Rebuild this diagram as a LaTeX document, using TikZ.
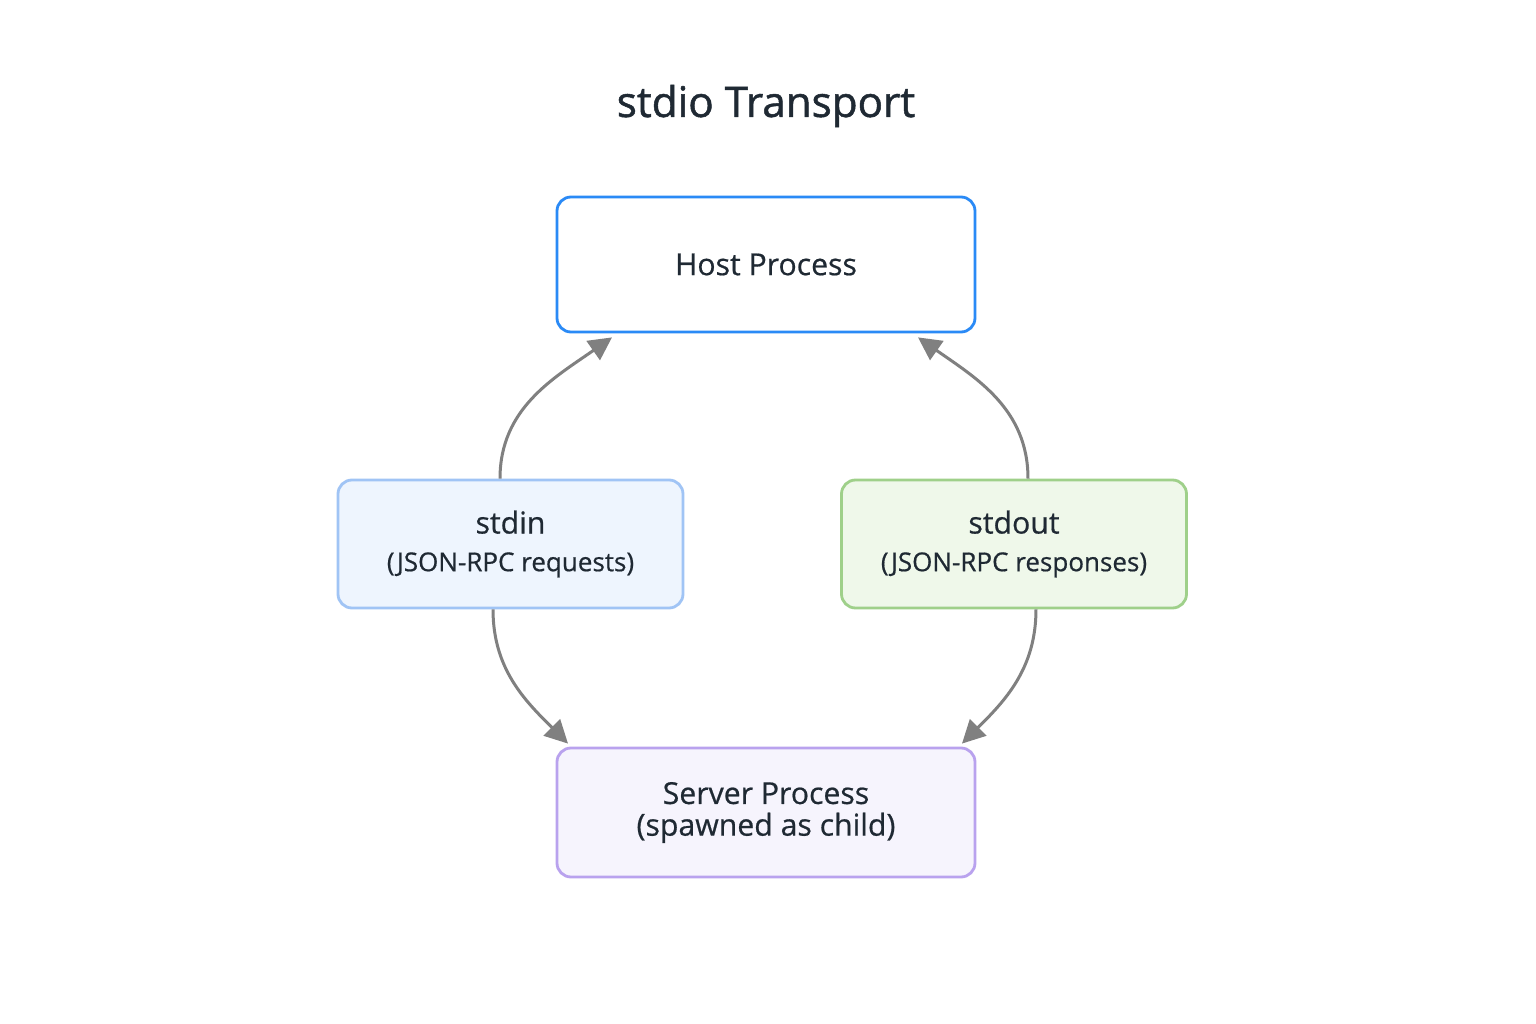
\documentclass[tikz,border=0pt]{standalone}
\usepackage{fontspec}
\setmainfont{Open Sans}
\newfontfamily\medfont[FakeBold=0.6]{Open Sans}
\newfontfamily\semifont[FakeBold=1.2]{Open Sans}
\usetikzlibrary{arrows.meta}
\definecolor{txt}{HTML}{1F2933}
\definecolor{arr}{HTML}{808080}
\begin{document}
\begin{tikzpicture}[x=0.1mm,y=-0.1mm,
  box/.style={draw, rounded corners=1.4mm, line width=0.28mm, align=center, text=txt, font=\medfont\fontsize{8.6}{13}\selectfont},
  link/.style={draw=arr, line width=0.3mm, -{Triangle[length=2.3mm,width=2.3mm]}}]
\useasboundingbox[fill=white] (0,0) rectangle (1536,1024);
\node[text=txt, font=\semifont\fontsize{12}{15}\selectfont] (title) at (766,106) {stdio Transport};
\node[box, draw={rgb,255:red,42;green,138;blue,246}, fill=white, minimum width=41.8mm, minimum height=13.5mm] (host) at (766,264.5) {\raisebox{-0.3mm}{Host Process}};
\node[box, draw={rgb,255:red,160;green,196;blue,245}, fill={rgb,255:red,238;green,245;blue,254}, minimum width=34.5mm, minimum height=12.8mm] (stdin) at (510.5,544) {\raisebox{-0.4mm}{stdin}\\[-0.4mm]{\fontsize{7.4}{10}\selectfont (JSON-RPC requests)}};
\node[box, draw={rgb,255:red,159;green,208;blue,138}, fill={rgb,255:red,239;green,248;blue,234}, minimum width=34.5mm, minimum height=12.8mm] (stdout) at (1014,544) {\raisebox{-0.4mm}{stdout}\\[-0.4mm]{\fontsize{7.4}{10}\selectfont (JSON-RPC responses)}};
\node[box, draw={rgb,255:red,185;green,162;blue,238}, fill={rgb,255:red,246;green,244;blue,253}, minimum width=41.8mm, minimum height=12.9mm] (server) at (766,812.5) {\raisebox{-0.8mm}{Server Process}\\[-0.6mm]{(spawned as child)}};
\draw[link] ([xshift=-1.05mm]stdin.north) to[out=90,in=215] ([xshift=-15.4mm,yshift=-0.4mm]host.south);
\draw[link] ([xshift=1.4mm]stdout.north) to[out=90,in=325] ([xshift=15.2mm,yshift=-0.4mm]host.south);
\draw[link] ([xshift=-1.75mm]stdin.south) to[out=-90,in=135] ([xshift=-19.8mm,yshift=0.3mm]server.north);
\draw[link] ([xshift=2.2mm]stdout.south) to[out=-90,in=45] ([xshift=19.6mm,yshift=0.3mm]server.north);
\end{tikzpicture}
\end{document}
